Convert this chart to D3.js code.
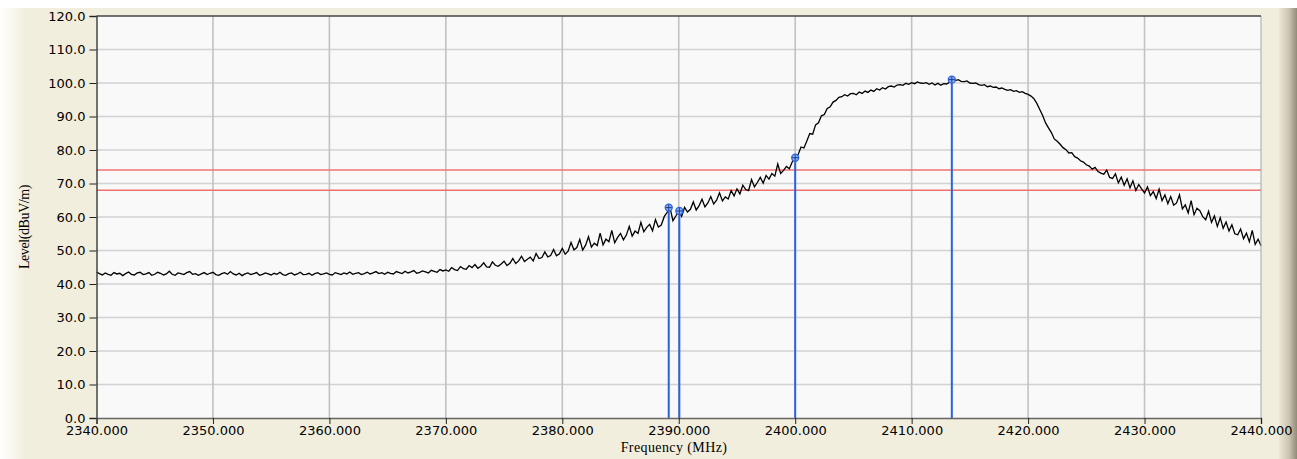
<!DOCTYPE html>
<html lang="en">
<head>
    <meta charset="UTF-8">
    <title>Level vs Frequency</title>
    <script src="https://d3js.org/d3.v7.min.js"></script>
    <style>
        body { margin: 0; background: #fff; }
        svg { display: block; }
        .tick text { font-family: "DejaVu Sans", sans-serif; font-size: 13px; fill: #000; }
        .tick line { stroke: #222; }
        .axis-title { font-family: "Liberation Serif", serif; fill: #000; }
    </style>
</head>
<body>
    <svg width="1297" height="459"></svg>

    <script>
        const width = 1297;
        const height = 459;

        // trace: 2340..2440 MHz, one reading every 0.25 MHz
        const freqStart = 2340;
        const freqStep = 0.25;
        const levels = [
            43.6, 43.1, 42.7, 43.3, 42.9, 42.6, 43.4, 43.0, 43.2, 42.5, 43.1, 43.6, 42.9, 42.7, 43.3, 43.5, 42.8, 43.0, 43.4, 42.6,
            42.9, 43.5, 43.2, 42.7, 43.0, 43.8, 42.9, 42.6, 43.3, 43.1, 42.8, 43.4, 43.7, 42.9, 43.1, 42.6, 43.0, 43.4, 42.8, 43.2,
            43.5, 42.8, 42.6, 43.1, 43.4, 42.9, 43.7, 43.0, 42.7, 43.2, 42.5, 43.0, 43.3, 42.8, 43.1, 43.4, 42.6, 42.9, 43.3, 43.0,
            42.7, 43.2, 42.9, 43.5, 42.8, 42.6, 43.1, 43.3, 42.7, 43.0, 43.5, 42.8, 42.9, 43.2, 42.6, 43.1, 43.4, 42.8, 43.0, 43.3,
            42.9, 42.7, 43.4, 43.1, 42.8, 43.3, 43.0, 43.6, 42.9, 43.2, 43.4, 42.8, 43.1, 43.5, 43.0, 43.3, 43.7, 43.1, 43.4, 42.9,
            43.5, 43.2, 43.0, 43.7, 43.4, 43.1, 43.8, 43.3, 43.6, 44.0, 43.2, 43.5, 43.9, 43.6, 43.3, 44.1, 43.8, 43.5, 44.3, 43.9,
            44.2, 43.8, 44.9, 44.3, 44.0, 45.2, 44.6, 44.4, 45.5, 44.9, 45.8, 44.7, 45.3, 46.3, 45.1, 45.0, 46.6, 45.6, 45.3, 46.0,
            46.8, 45.5, 46.2, 47.6, 46.1, 46.9, 48.3, 46.7, 47.4, 48.0, 46.9, 49.1, 47.6, 47.9, 49.6, 48.1, 48.5, 50.3, 48.4, 49.0,
            50.6, 48.9, 49.8, 52.4, 50.2, 50.9, 53.3, 50.1, 51.6, 54.1, 51.0, 52.2, 51.5, 55.2, 51.7, 53.4, 52.6, 56.0, 52.3, 53.9,
            55.1, 53.2, 54.6, 57.2, 54.3, 55.8, 55.1, 58.4, 55.6, 56.9, 57.8, 55.9, 59.2, 57.0, 57.6, 60.1, 61.4, 62.8, 58.9, 60.3,
            61.8, 60.2, 62.9, 61.5, 62.3, 64.5, 62.1, 63.4, 65.3, 63.0, 64.2, 66.1, 63.9, 65.0, 67.2, 64.8, 66.0, 65.4, 67.9, 66.3,
            68.4, 66.9, 69.5, 68.2, 67.9, 71.2, 69.0, 70.3, 71.8, 70.1, 72.4, 71.3, 73.0, 72.2, 75.8, 73.0, 73.9, 75.1, 74.4, 76.5,
            77.8, 78.6, 80.9, 80.6, 82.7, 84.9, 84.7, 87.5, 88.1, 90.2, 90.6, 92.4, 92.9, 94.3, 94.8, 95.7, 95.9, 96.5, 96.1, 96.8,
            96.9, 96.5, 97.3, 96.9, 97.6, 97.2, 97.9, 97.5, 98.3, 97.9, 98.6, 98.2, 98.9, 99.1, 98.8, 99.4, 99.5, 99.3, 99.9, 99.6,
            100.1, 99.8, 100.3, 100.0, 99.9, 100.1, 99.6, 100.0, 99.4, 99.9, 99.3, 99.8, 99.7, 100.2, 100.9, 100.7, 101.0, 100.5, 100.4, 100.6,
            100.0, 99.9, 100.0, 99.5, 99.3, 99.5, 98.9, 99.1, 98.7, 98.8, 98.3, 98.5, 98.1, 97.8, 98.0, 97.5, 97.7, 97.2, 97.4, 96.9,
            96.6, 96.1, 95.3, 93.9, 92.1, 90.3, 88.1, 86.6, 85.2, 83.3, 82.6, 81.7, 80.7, 80.1, 79.1, 79.2, 78.0, 77.6, 76.8, 76.4,
            75.6, 75.2, 74.3, 74.8, 73.6, 73.1, 72.8, 74.0, 71.8, 71.5, 72.9, 70.2, 71.9, 69.5, 71.4, 68.7, 70.8, 67.9, 69.7, 68.4,
            67.2, 69.0, 66.4, 67.6, 65.5, 68.3, 64.9, 66.6, 64.0, 66.1, 63.5, 64.2, 66.6, 62.4, 63.6, 61.2, 64.9, 60.7, 62.6, 61.9,
            60.1, 59.2, 61.7, 58.4, 60.3, 57.2, 59.8, 56.6, 58.5, 55.8, 57.7, 55.0, 54.7, 56.4, 53.5, 55.2, 52.6, 56.0, 51.8, 53.4,
            51.4
        ];

        // markers
        const markerFreqs = [2389.14, 2390.05, 2400.0, 2413.45];
        const markerLevels = [62.8, 61.8, 77.7, 101.0];

        // limit lines (dBuV/m)
        const limits = [74, 68];

        const xTicks = [2340, 2350, 2360, 2370, 2380, 2390, 2400, 2410, 2420, 2430, 2440];
        const yTicks = [0, 10, 20, 30, 40, 50, 60, 70, 80, 90, 100, 110, 120];

        const svg = d3.select("svg")
            .attr("width", width)
            .attr("height", height);

        const x = d3.scaleLinear().domain([2340, 2440]).range([96.5, 1261]);
        const y = d3.scaleLinear().domain([0, 120]).range([418, 16]);

        const defs = svg.append("defs");
        const leftGrad = defs.append("linearGradient").attr("id", "leftGrad");
        leftGrad.append("stop").attr("offset", "0%").attr("stop-color", "#ffffff");
        leftGrad.append("stop").attr("offset", "100%").attr("stop-color", "#f1eedd");
        const rightGrad = defs.append("linearGradient").attr("id", "rightGrad");
        rightGrad.append("stop").attr("offset", "0%").attr("stop-color", "#ebe7d4");
        rightGrad.append("stop").attr("offset", "55%").attr("stop-color", "#c9c5b1");
        rightGrad.append("stop").attr("offset", "100%").attr("stop-color", "#8f8b79");

        // window frame
        svg.append("rect").attr("width", width).attr("height", height).attr("fill", "#fff");
        svg.append("rect").attr("x", 0).attr("y", 8).attr("width", width).attr("height", height - 8).attr("fill", "#f1eedd");
        svg.append("rect").attr("x", 0).attr("y", 8).attr("width", 26).attr("height", height - 8).attr("fill", "url(#leftGrad)");
        svg.append("rect").attr("x", 1279).attr("y", 8).attr("width", 18).attr("height", height - 8).attr("fill", "url(#rightGrad)");

        // plot area
        svg.append("rect")
            .attr("x", x(2340)).attr("y", y(120))
            .attr("width", x(2440) - x(2340)).attr("height", y(0) - y(120))
            .attr("fill", "#f9f9f9");

        // grid
        svg.append("g").selectAll("line")
            .data(yTicks.slice(1, -1))
            .enter().append("line")
            .attr("x1", x(2340)).attr("x2", x(2440))
            .attr("y1", d => y(d)).attr("y2", d => y(d))
            .attr("stroke", "#d2d2d2").attr("stroke-width", 1.5);

        svg.append("g").selectAll("line")
            .data(xTicks.slice(1, -1))
            .enter().append("line")
            .attr("x1", d => x(d)).attr("x2", d => x(d))
            .attr("y1", y(0)).attr("y2", y(120))
            .attr("stroke", "#c2c2c2").attr("stroke-width", 1.6);

        // limit lines
        svg.append("g").selectAll("line")
            .data(limits)
            .enter().append("line")
            .attr("x1", x(2340)).attr("x2", x(2440))
            .attr("y1", d => y(d)).attr("y2", d => y(d))
            .attr("stroke", "#f07070").attr("stroke-width", 1.5);

        // trace
        const line = d3.line()
            .x((d, i) => x(freqStart + i * freqStep))
            .y(d => y(d));

        svg.append("path")
            .datum(levels)
            .attr("fill", "none")
            .attr("stroke", "#000")
            .attr("stroke-width", 1.3)
            .attr("d", line);

        // marker lines + dots
        const markers = markerFreqs.map((f, i) => ({ f: f, v: markerLevels[i] }));

        svg.append("g").selectAll("line")
            .data(markers)
            .enter().append("line")
            .attr("x1", d => x(d.f)).attr("x2", d => x(d.f))
            .attr("y1", y(0)).attr("y2", d => y(d.v))
            .attr("stroke", "#2a62e0").attr("stroke-width", 2);

        const dots = svg.append("g").selectAll("g")
            .data(markers)
            .enter().append("g")
            .attr("transform", d => `translate(${x(d.f)},${y(d.v)})`);
        dots.append("circle").attr("r", 3.5).attr("fill", "#8fb0f0").attr("stroke", "#2a62e0").attr("stroke-width", 1.3);
        dots.append("path").attr("d", "M-3,0H3M0,-3V3").attr("stroke", "#1a3a90").attr("stroke-width", 1);

        // border
        svg.append("line").attr("x1", x(2440)).attr("x2", x(2440)).attr("y1", y(0)).attr("y2", y(120))
            .attr("stroke", "#a8a8a8").attr("stroke-width", 1);
        svg.append("line").attr("x1", x(2340)).attr("x2", x(2440)).attr("y1", y(120)).attr("y2", y(120))
            .attr("stroke", "#444").attr("stroke-width", 1.5);

        // axes
        const yAxis = d3.axisLeft(y)
            .tickValues(yTicks)
            .tickFormat(d3.format(".1f"))
            .tickSize(7)
            .tickPadding(4);

        const xAxis = d3.axisBottom(x)
            .tickValues(xTicks)
            .tickFormat(d3.format(".3f"))
            .tickSize(6)
            .tickPadding(2);

        svg.append("g")
            .attr("transform", `translate(${x(2340)},0)`)
            .call(yAxis)
            .call(g => g.select(".domain").attr("stroke", "#444").attr("stroke-width", 1.5));

        svg.append("g")
            .attr("transform", `translate(0,${y(0)})`)
            .call(xAxis)
            .call(g => g.select(".domain").attr("stroke", "#666").attr("stroke-width", 1.5));

        svg.append("text")
            .attr("class", "axis-title")
            .attr("x", 674)
            .attr("y", 452)
            .style("text-anchor", "middle")
            .style("font-size", "14px")
            .style("letter-spacing", "0.4px")
            .text("Frequency (MHz)");

        svg.append("text")
            .attr("class", "axis-title")
            .attr("transform", "translate(29,227) rotate(-90)")
            .style("text-anchor", "middle")
            .style("font-size", "14px")
            .style("letter-spacing", "-0.4px")
            .text("Level(dBuV/m)");
    </script>
</body>
</html>
